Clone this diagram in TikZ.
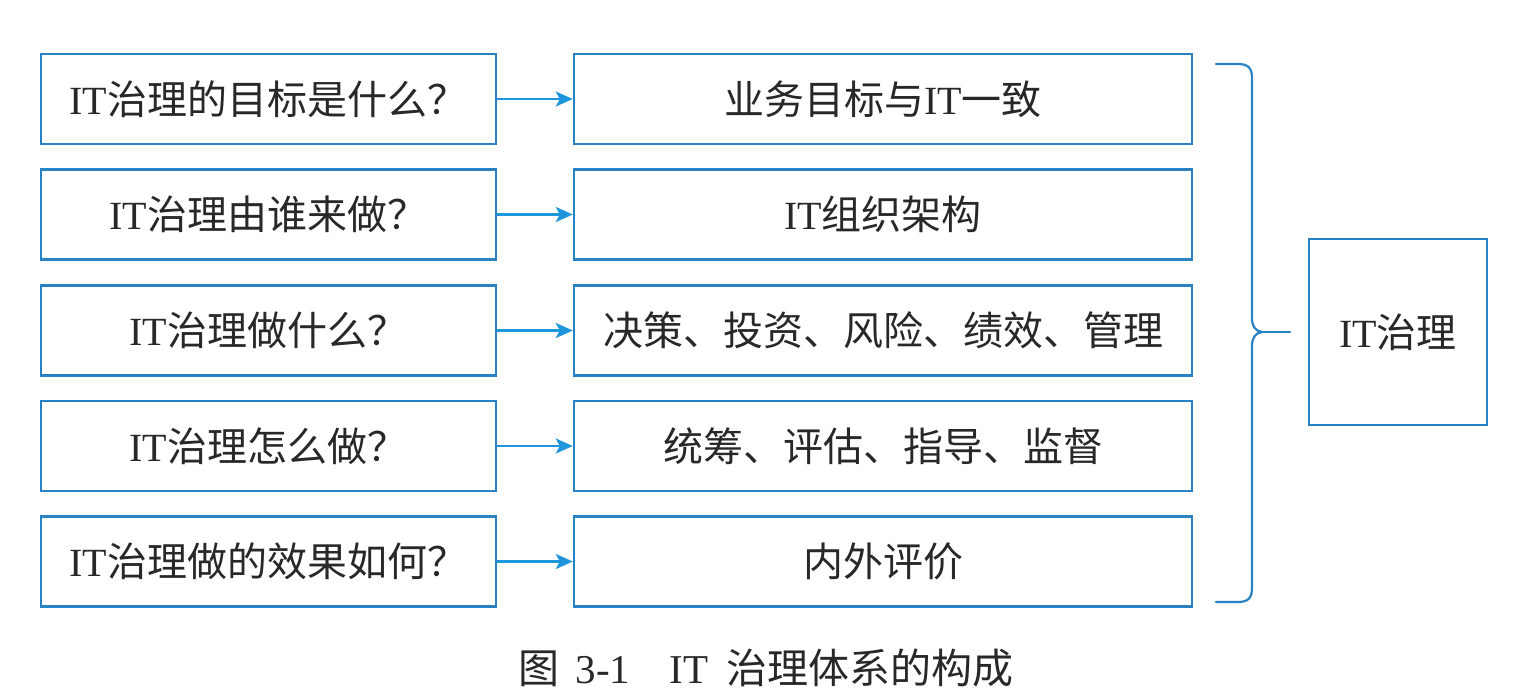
\documentclass[tikz,border=0pt]{standalone}
\usepackage{fontspec}
\setmainfont{Liberation Serif}
\newfontfamily\cjk{Noto Sans CJK SC}
\usetikzlibrary{arrows.meta}
\definecolor{boxblue}{RGB}{40,130,195}
\definecolor{arrblue}{RGB}{30,150,220}
\definecolor{txt}{RGB}{40,40,40}
\begin{document}
\begin{tikzpicture}[x=1pt,y=-1pt,
  box/.style={draw=boxblue,line width=2.4pt,inner sep=0pt,text=txt,
    font=\fontsize{40}{48}\selectfont},
  qbox/.style={box,minimum width=455pt,minimum height=90pt},
  abox/.style={box,minimum width=618pt,minimum height=90pt},
  arr/.style={draw=arrblue,line width=2.4pt,-{Stealth[length=17pt,width=15pt,inset=4pt]}},
  bracestyle/.style={draw=boxblue,line width=2.2pt,line cap=round,line join=round},
  ]
\useasboundingbox (0,0) rectangle (1528,696);

\node[qbox] (q1) at (268.5,99)   {IT{\cjk 治理的目标是什么？}};
\node[qbox] (q2) at (268.5,214.5){IT{\cjk 治理由谁来做？}};
\node[qbox] (q3) at (268.5,330.5){IT{\cjk 治理做什么？}};
\node[qbox] (q4) at (268.5,446)  {IT{\cjk 治理怎么做？}};
\node[qbox] (q5) at (268.5,561.5){IT{\cjk 治理做的效果如何？}};

\node[abox] (a1) at (883,99)   {{\cjk 业务目标与}IT{\cjk 一致}};
\node[abox] (a2) at (883,214.5){IT{\cjk 组织架构}};
\node[abox] (a3) at (883,330.5){{\cjk 决策、投资、风险、绩效、管理}};
\node[abox] (a4) at (883,446)  {{\cjk 统筹、评估、指导、监督}};
\node[abox] (a5) at (883,561.5){{\cjk 内外评价}};

\node[box,minimum width=178pt,minimum height=186pt] (it) at (1398,332) {IT{\cjk 治理}};

\foreach \i in {1,...,5} \draw[arr] (q\i.east) -- (a\i.west);

\coordinate (bt) at (1262,332);
\coordinate (be) at (1290,332);
\draw[bracestyle] (1216,64) -- (1238,64) .. controls (1248,64) and (1252,68) .. (1252,78)
  -- (1252,318) .. controls (1252,326) and (1255,331) .. (bt)
  .. controls (1255,333) and (1252,338) .. (1252,346)
  -- (1252,588) .. controls (1252,598) and (1248,602) .. (1238,602) -- (1216,602);
\draw[bracestyle] (bt) -- (be);

\node[text=txt,font=\fontsize{41}{48}\selectfont] (cap) at (766,668)
  {{\cjk 图}\hspace{0.4em}3-1\hspace{0.95em}IT\hspace{0.45em}{\cjk 治理体系的构成}};
\end{tikzpicture}
\end{document}
